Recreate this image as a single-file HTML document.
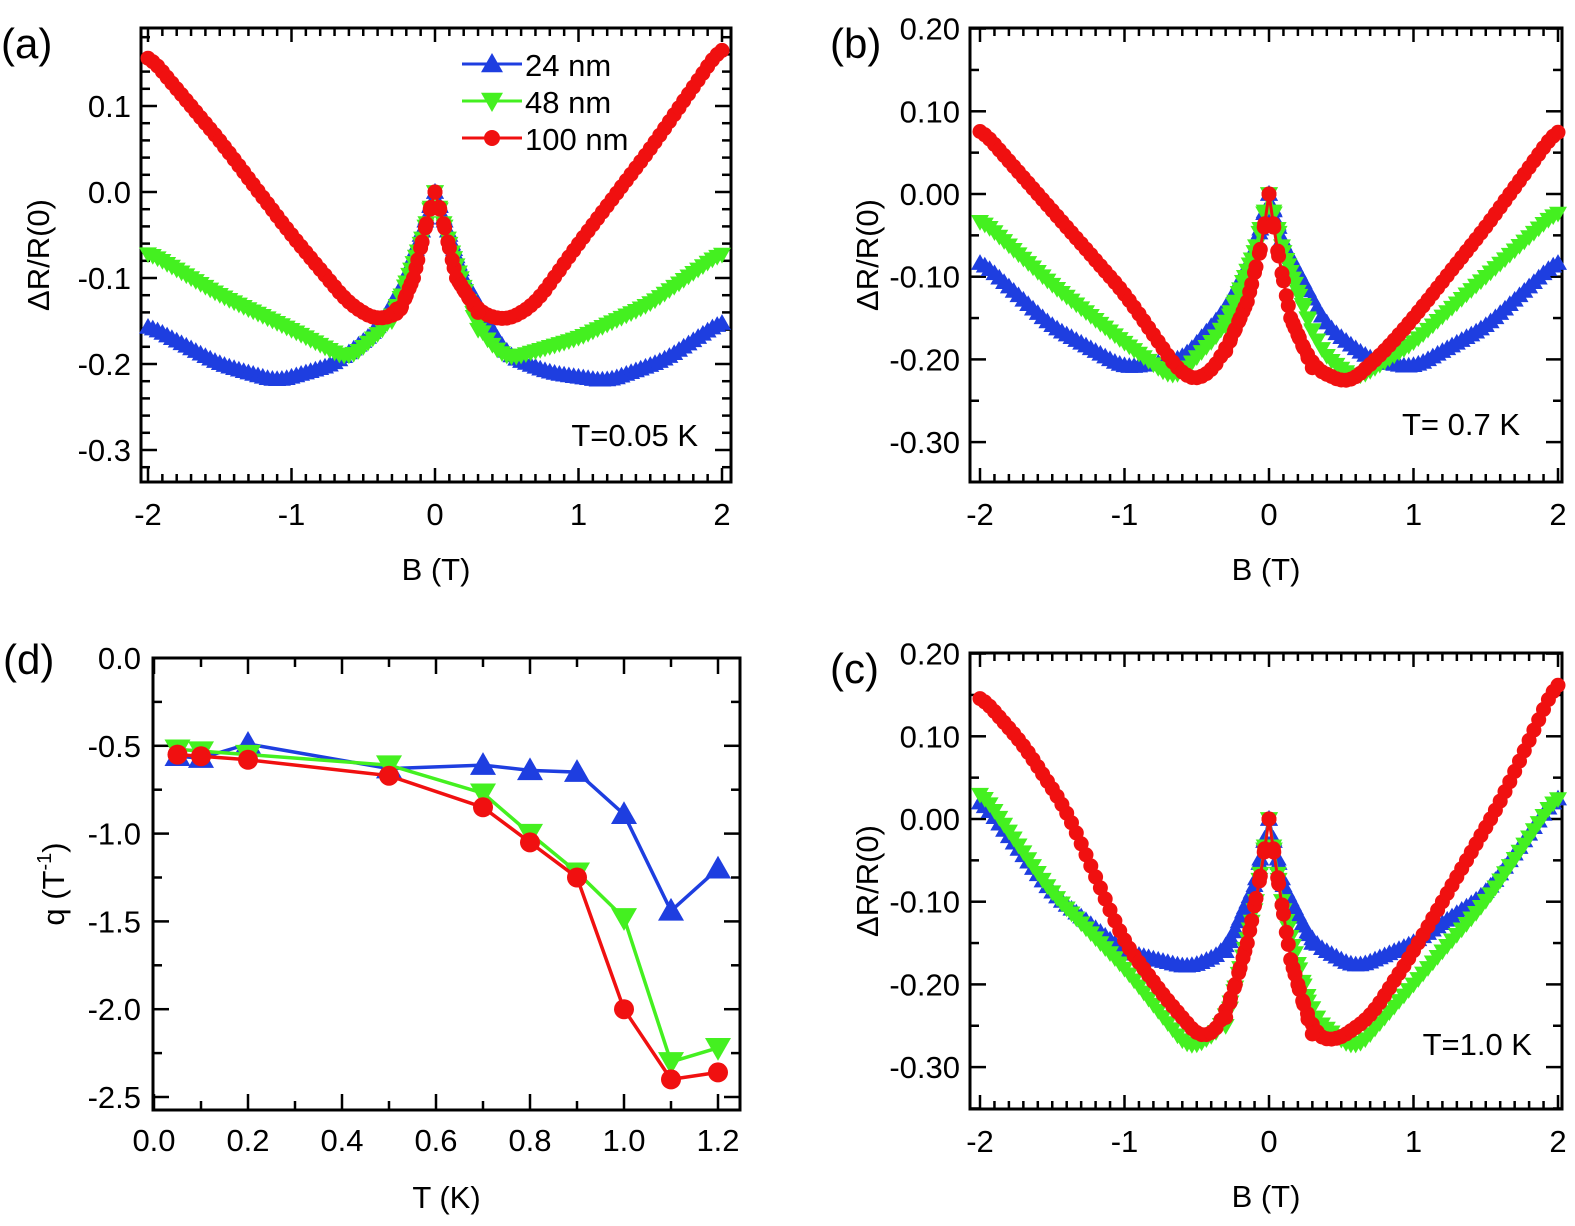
<!DOCTYPE html>
<html><head><meta charset="utf-8"><style>
html,body{margin:0;padding:0;background:#fff;}
svg{display:block;font-family:"Liberation Sans",sans-serif;}
</style></head><body>
<svg id="s" width="1575" height="1226" viewBox="0 0 1575 1226" xmlns="http://www.w3.org/2000/svg"></svg>
<script>
const S=document.getElementById('s');let H='';
const BL='#1e3ee0',GR='#44f020',RD='#f01010';
function interp(pts,x){for(let i=0;i<pts.length-1;i++){const [a,va]=pts[i],[b,vb]=pts[i+1];if(x>=a&&x<=b){return va+(vb-va)*(x-a)/(b-a);}}return pts[pts.length-1][1];}
function sm(pts,x){ // light smoothing except near peak
 if(Math.abs(x)<0.25)return interp(pts,x);
 let s=0,n=0;for(let d=-0.08;d<=0.0801;d+=0.02){let xx=x+d;if(xx<-2)xx=-2;if(xx>2)xx=2;s+=interp(pts,xx);n++;}return s/n;}
function tri(x,y,r,c,up){x=+x;y=+y;if(up)return `<polygon points="${x},${y-r} ${x-r},${y+r*0.75} ${x+r},${y+r*0.75}" fill="${c}"/>`;return `<polygon points="${x},${y+r} ${x-r},${y-r*0.75} ${x+r},${y-r*0.75}" fill="${c}"/>`;}
function mk(type,x,y,c,r){if(type=='c')return `<circle cx="${x}" cy="${y}" r="${r}" fill="${c}"/>`;return tri(x,y,r,c,type=='u');}
function frame(L,T,R,B){H+=`<rect x="${L}" y="${T}" width="${R-L}" height="${B-T}" fill="none" stroke="#000" stroke-width="3"/>`;}
const FS=31;
function bpanel(o){
 const {L,T,R,B,x0,xs,y0,ys,yt,ydec,series,label,lab,lx,ly,minor}=o;
 const X=b=>x0+b*xs,Y=v=>y0-v*ys;
 for(let k=-20;k<=20;k++){const x=X(k/10);const maj=k%10==0;const l=maj?14:8;
  H+=`<line x1="${x}" y1="${B}" x2="${x}" y2="${B-l}" stroke="#000" stroke-width="2.5"/><line x1="${x}" y1="${T}" x2="${x}" y2="${T+l}" stroke="#000" stroke-width="2.5"/>`;
  if(maj)H+=`<text x="${x}" y="${B+43}" font-size="${FS}" text-anchor="middle">${k<0?'-':''}${Math.abs(k/10)}</text>`;}
 const n=Math.round(0.1/minor);
 for(let k=-40;k<=30;k++){const v=k*minor;const y=Y(v);if(y<T-1||y>B+1)continue;const maj=((k%n)+n)%n==0;const l=maj?16:9;
  H+=`<line x1="${L}" y1="${y}" x2="${L+l}" y2="${y}" stroke="#000" stroke-width="2.5"/><line x1="${R}" y1="${y}" x2="${R-l}" y2="${y}" stroke="#000" stroke-width="2.5"/>`;}
 yt.forEach(v=>{H+=`<text x="${L-10}" y="${Y(v)+11}" font-size="${FS}" text-anchor="end">${v.toFixed(ydec)}</text>`;});
 frame(L,T,R,B);
 series.forEach(([pts,c,type,r])=>{let d='';const N=120;let m='';
  for(let i=0;i<=N;i++){const b=-2+4*i/N;const v=sm(pts,b);const x=X(b).toFixed(1),y=Y(v).toFixed(1);d+=(i?'L':'M')+x+','+y;m+=mk(type,x,y,c,r);}
  for(let b=-0.3;b<=0.3;b+=0.03){const v=interp(pts,b);m+=mk(type,X(b).toFixed(1),Y(v).toFixed(1),c,r);}
  H+=`<path d="${d}" fill="none" stroke="${c}" stroke-width="3"/>`+m;});
 H+=`<text x="${(L+R)/2}" y="${B+98}" font-size="${FS}" text-anchor="middle">B (T)</text>`;
 H+=`<text transform="translate(${L-92},${(T+B)/2}) rotate(-90)" font-size="${FS}" text-anchor="middle">ΔR/R(0)</text>`;
 H+=`<text x="${lx}" y="${ly}" font-size="${FS}" text-anchor="end">${lab}</text>`;
 H+=`<text x="${L-140}" y="${T+30}" font-size="42">${label}</text>`;
}
bpanel({L:141,T:28,R:731,B:482,x0:435,xs:143.5,y0:192,ys:860,yt:[0.1,0.0,-0.1,-0.2,-0.3],ydec:1,minor:0.02,label:'(a)',lab:'T=0.05 K',lx:698,ly:446,
series:[
[[[-2,-0.155],[-1.5,-0.2],[-1.1,-0.22],[-0.7,-0.2],[-0.4,-0.16],[-0.2,-0.1],[0,0],[0.2,-0.1],[0.5,-0.19],[0.8,-0.21],[1.2,-0.22],[1.6,-0.195],[2,-0.15]],BL,'u',9],
[[[-2,-0.07],[-1.5,-0.12],[-1,-0.16],[-0.6,-0.195],[-0.3,-0.15],[-0.1,-0.06],[0,0],[0.1,-0.06],[0.3,-0.16],[0.5,-0.195],[1,-0.17],[1.5,-0.13],[2,-0.07]],GR,'d',9],
[[[-2,0.16],[-1.5,0.06],[-1,-0.05],[-0.6,-0.13],[-0.4,-0.15],[-0.25,-0.14],[-0.15,-0.1],[-0.05,-0.03],[0,0],[0.05,-0.03],[0.15,-0.1],[0.3,-0.14],[0.5,-0.15],[0.7,-0.13],[1,-0.06],[1.5,0.05],[2,0.17]],RD,'c',7.5]]});
[[64,BL,'u','24 nm'],[101,GR,'d','48 nm'],[138,RD,'c','100 nm']].forEach(([y,c,t,s])=>{H+=`<line x1="462" y1="${y}" x2="522" y2="${y}" stroke="${c}" stroke-width="3"/>`+mk(t,492,y,c,t=='c'?8:11)+`<text x="525" y="${y+12}" font-size="${FS}">${s}</text>`;});
bpanel({L:970,T:28,R:1562,B:482,x0:1269,xs:144.5,y0:194,ys:827,yt:[0.2,0.1,0,-0.1,-0.2,-0.3],ydec:2,minor:0.05,label:'(b)',lab:'T= 0.7 K',lx:1520,ly:435,
series:[
[[[-2,-0.08],[-1.5,-0.16],[-1,-0.21],[-0.6,-0.2],[-0.3,-0.14],[-0.1,-0.07],[0,0],[0.1,-0.06],[0.4,-0.16],[0.7,-0.2],[1,-0.21],[1.5,-0.16],[2,-0.08]],BL,'u',9],
[[[-2,-0.03],[-1.5,-0.11],[-1,-0.18],[-0.65,-0.225],[-0.3,-0.16],[-0.1,-0.07],[0,0],[0.1,-0.07],[0.35,-0.19],[0.6,-0.225],[1,-0.18],[1.5,-0.1],[2,-0.02]],GR,'d',9],
[[[-2,0.08],[-1.5,-0.02],[-1,-0.12],[-0.6,-0.22],[-0.45,-0.225],[-0.3,-0.19],[-0.15,-0.13],[-0.05,-0.06],[0,0],[0.05,-0.06],[0.15,-0.15],[0.3,-0.21],[0.55,-0.23],[0.8,-0.19],[1,-0.15],[1.5,-0.04],[2,0.08]],RD,'c',7.5]]});
bpanel({L:970,T:653,R:1562,B:1109,x0:1269,xs:144.5,y0:819,ys:827,yt:[0.2,0.1,0,-0.1,-0.2,-0.3],ydec:2,minor:0.05,label:'(c)',lab:'T=1.0 K',lx:1532,ly:1055,
series:[
[[[-2,0.025],[-1.5,-0.09],[-1,-0.16],[-0.55,-0.18],[-0.3,-0.16],[-0.1,-0.08],[0,0],[0.1,-0.08],[0.3,-0.15],[0.6,-0.18],[1,-0.15],[1.5,-0.09],[2,0.03]],BL,'u',9],
[[[-2,0.035],[-1.5,-0.09],[-1,-0.18],[-0.55,-0.28],[-0.3,-0.25],[-0.1,-0.11],[0,0],[0.1,-0.11],[0.3,-0.24],[0.6,-0.28],[1,-0.2],[1.5,-0.1],[2,0.03]],GR,'d',9],
[[[-2,0.15],[-1.7,0.09],[-1.4,0.01],[-1,-0.15],[-0.7,-0.22],[-0.45,-0.27],[-0.3,-0.24],[-0.15,-0.15],[-0.05,-0.06],[0,0],[0.05,-0.06],[0.15,-0.17],[0.3,-0.26],[0.45,-0.27],[0.7,-0.24],[1,-0.16],[1.3,-0.07],[1.6,0.02],[2,0.17]],RD,'c',7.5]]});
(function(){
 const L=153,T=658,R=740,B=1110,X=t=>154+t*470,Y=q=>658-q*175.6;
 for(let k=0;k<=12;k++){const x=X(k/10);const maj=k%2==0;const l=maj?16:9;
  H+=`<line x1="${x}" y1="${B}" x2="${x}" y2="${B-l}" stroke="#000" stroke-width="2.5"/><line x1="${x}" y1="${T}" x2="${x}" y2="${T+l}" stroke="#000" stroke-width="2.5"/>`;
  if(maj)H+=`<text x="${x}" y="${B+41}" font-size="${FS}" text-anchor="middle">${(k/10).toFixed(1)}</text>`;}
 for(let k=0;k<=10;k++){const q=-k*0.25;const y=Y(q);const maj=k%2==0;const l=maj?16:9;
  H+=`<line x1="${L}" y1="${y}" x2="${L+l}" y2="${y}" stroke="#000" stroke-width="2.5"/><line x1="${R}" y1="${y}" x2="${R-l}" y2="${y}" stroke="#000" stroke-width="2.5"/>`;
  if(maj)H+=`<text x="${L-12}" y="${y+11}" font-size="${FS}" text-anchor="end">${q.toFixed(1)}</text>`;}
 frame(L,T,R,B);
 const Ts=[0.05,0.1,0.2,0.5,0.7,0.8,0.9,1.0,1.1,1.2];
 [[[-0.56,-0.57,-0.49,-0.63,-0.61,-0.64,-0.65,-0.89,-1.44,-1.2],BL,'u',13],
  [[-0.52,-0.53,-0.55,-0.61,-0.77,-1.0,-1.22,-1.48,-2.3,-2.22],GR,'d',13],
  [[-0.55,-0.56,-0.58,-0.67,-0.85,-1.05,-1.25,-2.0,-2.4,-2.36],RD,'c',10]].forEach(([qs,c,t,r])=>{
  let d='',m='';qs.forEach((q,i)=>{const x=X(Ts[i]).toFixed(1),y=Y(q).toFixed(1);d+=(i?'L':'M')+x+','+y;m+=mk(t,x,y,c,r);});
  H+=`<path d="${d}" fill="none" stroke="${c}" stroke-width="3.5"/>`+m;});
 H+=`<text x="${(L+R)/2}" y="${B+98}" font-size="${FS}" text-anchor="middle">T (K)</text>`;
 H+=`<text transform="translate(64,${(T+B)/2}) rotate(-90)" font-size="${FS}" text-anchor="middle">q (T<tspan dy="-13" font-size="20">-1</tspan><tspan dy="13">)</tspan></text>`;
 H+=`<text x="3" y="674" font-size="42">(d)</text>`;
})();
S.innerHTML=H;
</script>
</body></html>
